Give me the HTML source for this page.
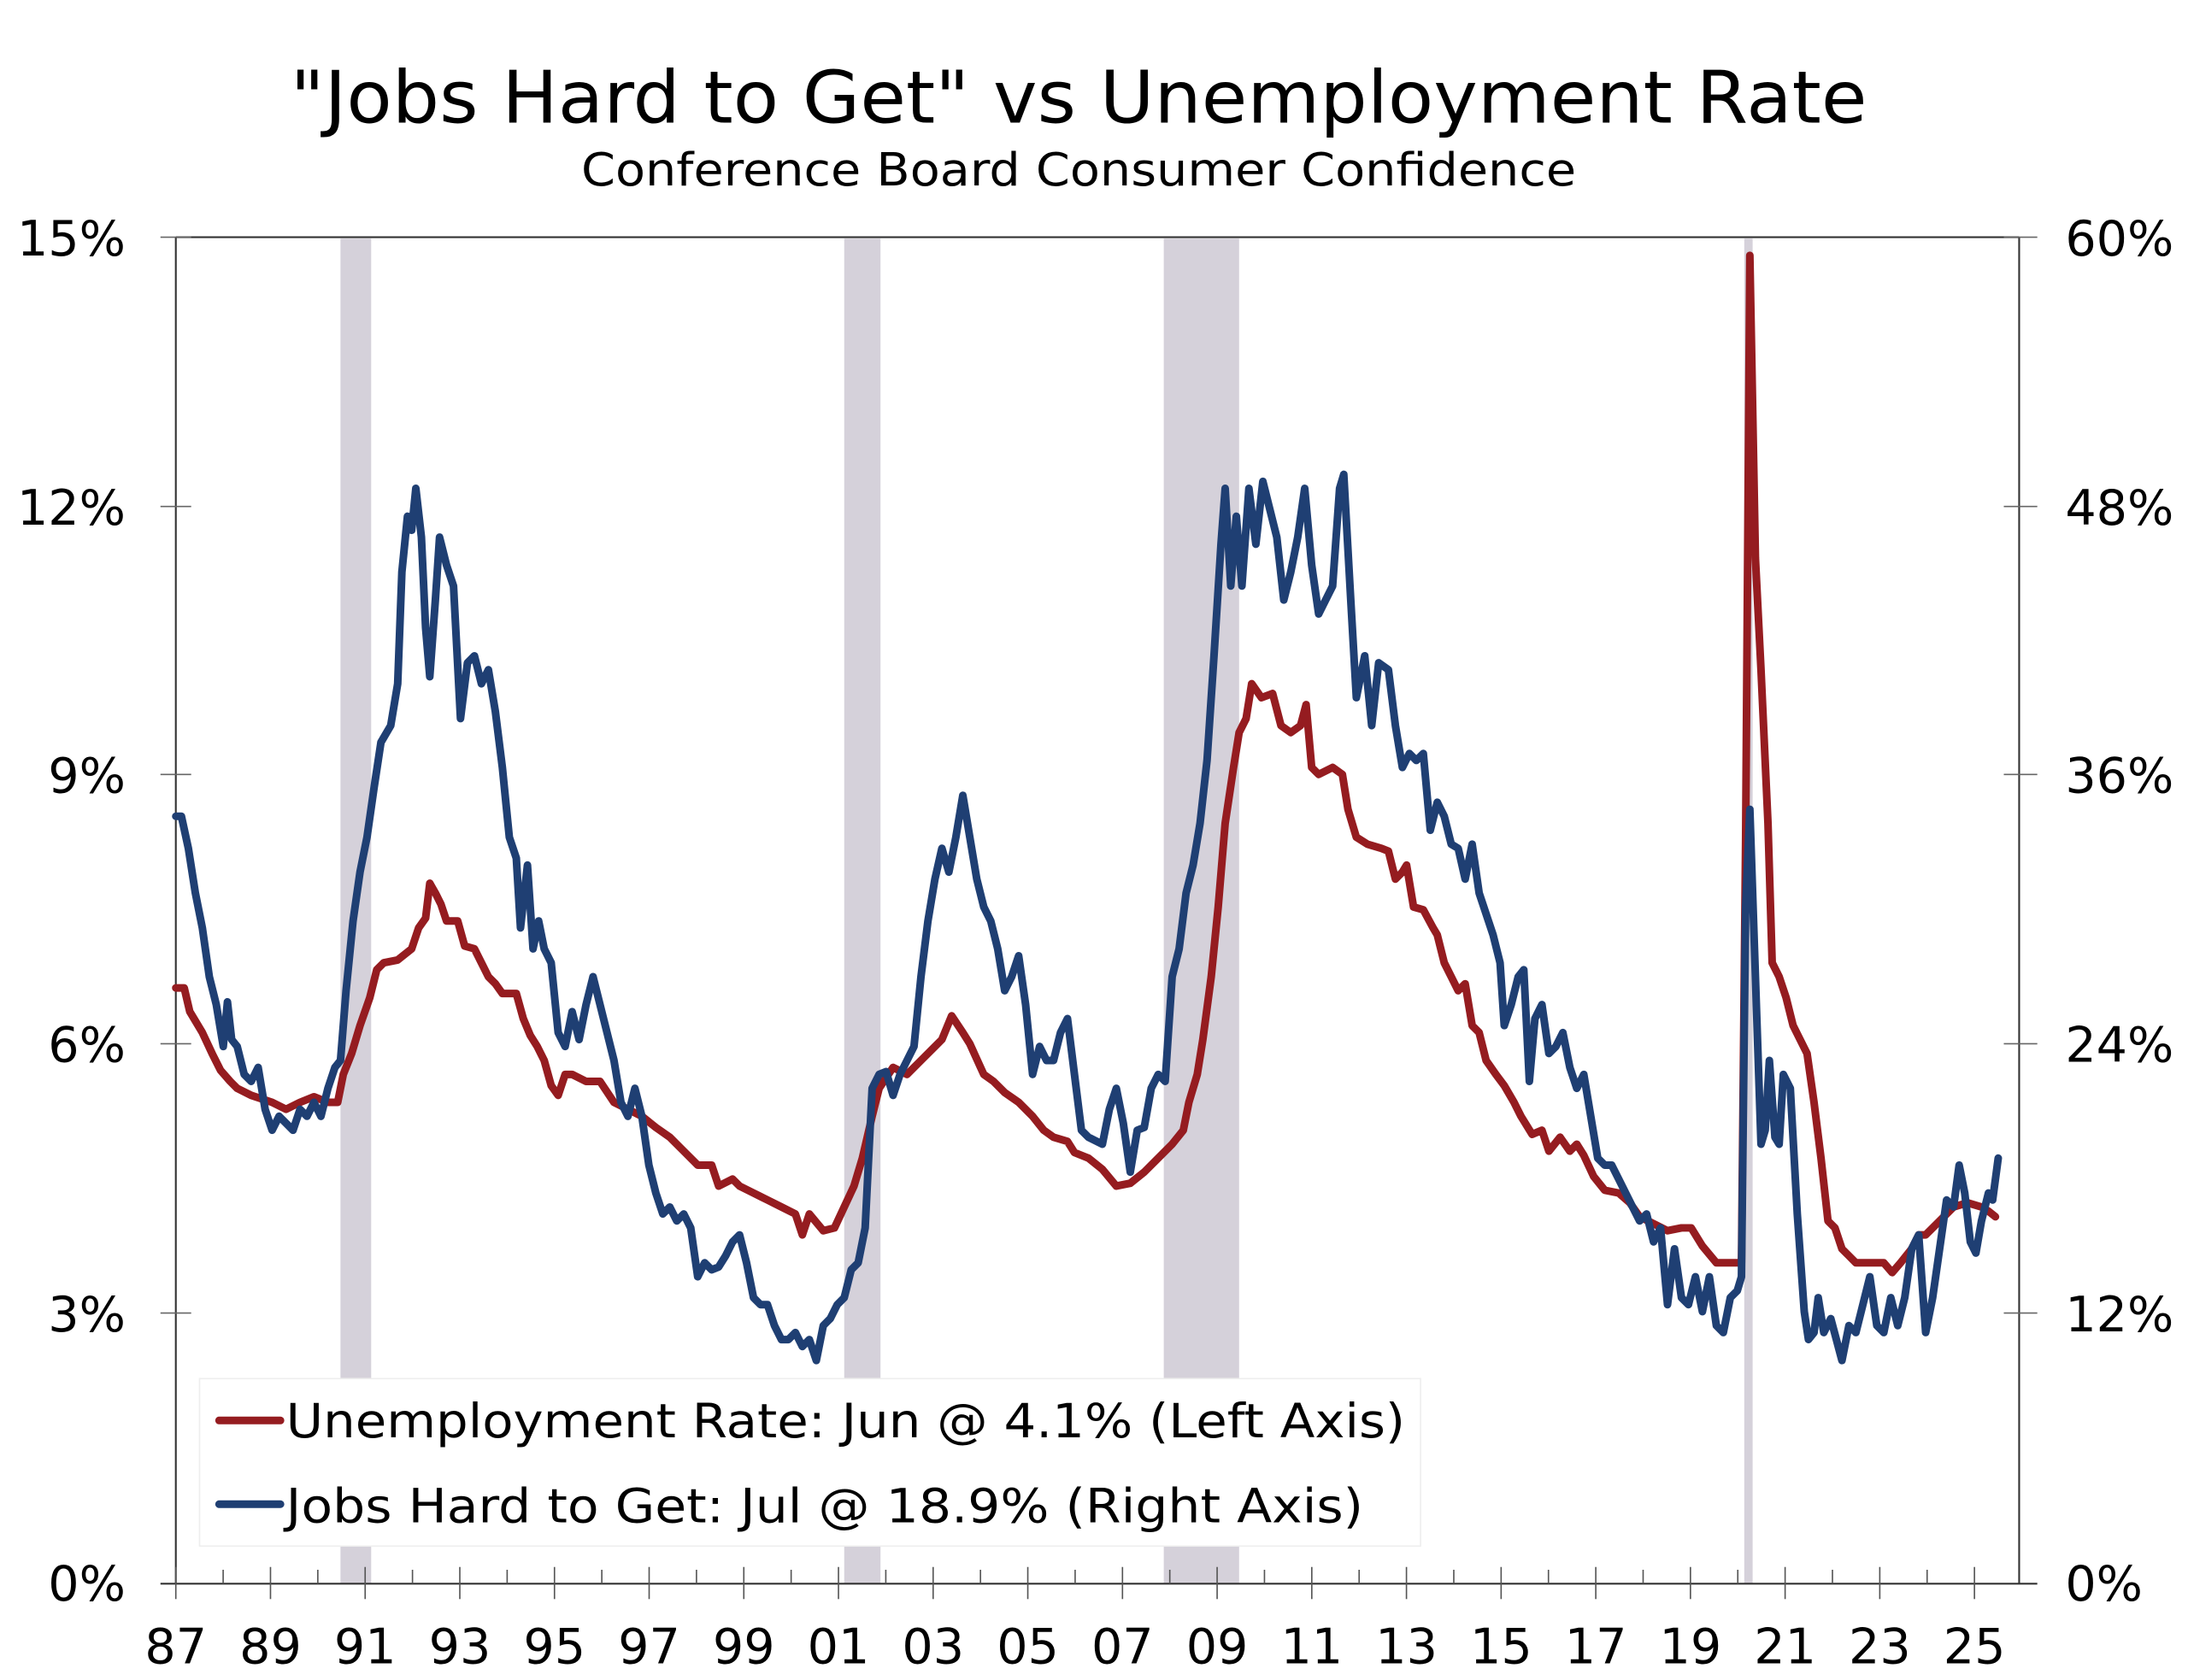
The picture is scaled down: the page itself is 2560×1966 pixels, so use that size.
<!DOCTYPE html>
<html><head><meta charset="utf-8"><style>html,body{margin:0;padding:0;background:#fff}svg{display:block}</style></head><body>
<svg width="2560" height="1966" viewBox="0 0 1568 1204" preserveAspectRatio="none" xmlns="http://www.w3.org/2000/svg" font-family="DejaVu Sans, Liberation Sans, sans-serif">
<rect width="1568" height="1204" fill="#fff"/>
<text x="773" y="88" font-size="52" text-anchor="middle" textLength="1130" lengthAdjust="spacingAndGlyphs">"Jobs Hard to Get" vs Unemployment Rate</text>
<text x="773" y="133" font-size="33" text-anchor="middle" textLength="713" lengthAdjust="spacingAndGlyphs">Conference Board Consumer Confidence</text>
<g fill="#d5d1da">
<rect x="244" y="171" width="22" height="964"/>
<rect x="605" y="171" width="26" height="964"/>
<rect x="834" y="171" width="54" height="964"/>
<rect x="1250" y="171" width="6" height="964"/>
</g>
<g stroke="#333" stroke-width="1.3" fill="none">
<line x1="126" y1="170" x2="1447" y2="170"/>
<line x1="126" y1="170" x2="126" y2="1135"/>
<line x1="1447" y1="170" x2="1447" y2="1135"/>
<line x1="115" y1="1135" x2="1460" y2="1135"/>
</g>
<g stroke="#666" stroke-width="1">
<line x1="115" y1="170" x2="137" y2="170"/><line x1="115" y1="363" x2="137" y2="363"/><line x1="115" y1="555" x2="137" y2="555"/><line x1="115" y1="748" x2="137" y2="748"/><line x1="115" y1="941" x2="137" y2="941"/>
<line x1="1436" y1="170" x2="1460" y2="170"/><line x1="1436" y1="363" x2="1460" y2="363"/><line x1="1436" y1="555" x2="1460" y2="555"/><line x1="1436" y1="748" x2="1460" y2="748"/><line x1="1436" y1="941" x2="1460" y2="941"/>
</g>
<g stroke="#555" stroke-width="1" id="xt"></g>
<g font-size="35" text-anchor="end">
<text x="90" y="183">15%</text><text x="90" y="376">12%</text><text x="90" y="568">9%</text><text x="90" y="761">6%</text><text x="90" y="954">3%</text><text x="90" y="1147">0%</text>
</g>
<g font-size="35" text-anchor="start">
<text x="1480" y="183">60%</text><text x="1480" y="376">48%</text><text x="1480" y="568">36%</text><text x="1480" y="761">24%</text><text x="1480" y="954">12%</text><text x="1480" y="1147">0%</text>
</g>
<g font-size="35" text-anchor="middle" id="xl"></g>
<polyline fill="none" stroke="#951c20" stroke-width="5.5" stroke-linejoin="round" stroke-linecap="round" points="126,708 132,708 136,725 145,740 152,755 158,767 165,775 170,780 180,785 195,790 205,795 215,790 225,786 235,790 242,790 246,770 252,755 258,735 265,715 270,695 275,690 285,688 295,680 300,665 305,658 308,633 312,640 316,648 320,660 328,660 333,678 340,680 345,690 350,700 355,705 360,712 370,712 375,730 380,742 385,750 390,760 395,778 400,785 405,770 410,770 420,775 430,775 440,790 450,795 460,800 470,808 480,815 490,825 500,835 510,835 515,850 525,845 530,850 540,855 550,860 560,865 570,870 575,885 580,870 590,882 598,880 605,865 612,850 618,830 625,800 630,780 640,765 650,770 660,760 670,750 675,745 682,728 690,740 695,748 705,770 712,775 720,783 730,790 740,800 748,810 755,815 765,818 770,826 780,830 790,838 800,850 810,848 820,840 828,832 840,820 848,810 852,790 858,770 862,745 868,700 873,650 878,590 884,550 888,525 893,515 897,490 904,500 912,497 918,520 925,525 932,520 936,505 940,550 945,555 955,550 962,555 966,580 972,600 980,605 990,608 995,610 1000,630 1005,625 1008,620 1013,650 1020,652 1027,665 1030,670 1035,690 1040,700 1045,710 1050,705 1055,735 1060,740 1065,760 1072,770 1078,778 1085,790 1090,800 1098,813 1105,810 1110,825 1118,815 1125,825 1130,820 1135,828 1142,843 1150,853 1160,855 1168,862 1175,872 1185,877 1195,882 1205,880 1212,880 1220,893 1230,905 1240,905 1248,905 1251,600 1254,183 1258,400 1262,480 1267,590 1270,690 1275,700 1280,715 1285,735 1290,745 1295,755 1300,790 1305,830 1310,875 1315,880 1320,895 1330,905 1340,905 1350,905 1356,912 1362,905 1370,895 1375,885 1380,885 1390,875 1400,865 1410,862 1420,865 1425,868 1430,872"/>
<polyline fill="none" stroke="#1f3f73" stroke-width="5.5" stroke-linejoin="round" stroke-linecap="round" points="126,585 130,585 135,608 140,640 145,665 150,700 155,720 160,750 163,718 166,745 170,750 175,770 180,775 185,765 190,795 195,810 200,800 205,805 210,810 215,795 220,800 225,790 230,800 235,780 240,765 244,760 248,710 253,660 258,625 263,600 268,565 273,532 280,520 285,490 288,410 292,370 295,380 298,350 302,385 305,450 308,485 312,430 315,385 320,405 325,420 330,515 335,475 340,470 345,490 350,480 355,510 360,550 365,600 370,615 373,665 378,620 382,680 386,660 390,680 395,690 400,740 405,750 410,725 415,745 420,720 425,700 430,720 435,740 440,760 445,790 450,800 455,780 460,800 465,835 470,855 475,870 480,865 485,875 490,870 495,880 500,915 505,905 510,910 515,908 520,900 525,890 530,885 535,905 540,930 545,935 550,935 555,950 560,960 565,960 570,955 575,965 580,960 585,975 590,950 595,945 600,935 605,930 610,910 615,905 620,880 625,780 630,770 635,768 640,785 645,770 650,760 655,750 660,700 665,660 670,630 675,608 680,625 685,600 690,570 695,600 700,630 705,650 710,660 715,680 720,710 725,700 730,685 735,720 740,770 745,750 750,760 755,760 760,740 765,730 770,770 775,810 780,815 790,820 795,795 800,780 805,805 810,840 815,810 820,808 825,780 830,770 835,775 840,700 845,680 850,640 855,620 860,590 865,545 870,470 875,390 878,350 882,420 886,370 890,420 895,350 900,390 905,345 910,365 915,385 920,430 925,410 930,385 935,350 940,405 945,440 950,430 955,420 960,350 963,340 968,430 972,500 978,470 983,520 988,475 995,480 1000,520 1005,550 1010,540 1015,545 1020,540 1025,595 1030,575 1035,585 1040,605 1045,608 1050,630 1055,605 1060,640 1065,655 1070,670 1075,690 1078,735 1083,720 1088,700 1092,695 1096,775 1100,730 1105,720 1110,755 1115,750 1120,740 1125,765 1130,780 1135,770 1140,800 1145,830 1150,835 1155,835 1160,845 1165,855 1170,865 1175,875 1180,870 1185,890 1190,880 1195,935 1200,895 1205,930 1210,935 1215,915 1220,940 1225,915 1230,950 1235,955 1240,930 1245,925 1248,915 1251,650 1254,580 1258,700 1262,820 1265,810 1268,760 1272,815 1275,820 1278,770 1283,780 1288,870 1293,940 1296,960 1300,955 1303,930 1307,955 1312,945 1316,960 1320,975 1325,950 1330,955 1335,935 1340,915 1345,950 1350,955 1355,930 1360,950 1365,930 1370,895 1375,885 1380,955 1385,930 1390,895 1395,860 1400,865 1404,835 1408,855 1412,890 1416,898 1420,875 1425,855 1428,860 1432,830"/>
<rect x="143" y="988" width="875" height="120" fill="#fff" stroke="#eee" stroke-width="1"/>
<line x1="157" y1="1018" x2="201" y2="1018" stroke="#951c20" stroke-width="5.5" stroke-linecap="round"/>
<line x1="157" y1="1078" x2="201" y2="1078" stroke="#1f3f73" stroke-width="5.5" stroke-linecap="round"/>
<text x="205" y="1030" font-size="34" textLength="802" lengthAdjust="spacingAndGlyphs">Unemployment Rate: Jun @ 4.1% (Left Axis)</text>
<text x="205" y="1091" font-size="34" textLength="772" lengthAdjust="spacingAndGlyphs">Jobs Hard to Get: Jul @ 18.9% (Right Axis)</text>
<script>
(function(){var ns="http://www.w3.org/2000/svg",g=document.getElementById("xt"),l=document.getElementById("xl");
for(var y=0;y<=39;y++){var x=126+y*33.92;if(x>1440)break;var ln=document.createElementNS(ns,"line");ln.setAttribute("x1",x);ln.setAttribute("x2",x);
if(y%2==0){ln.setAttribute("y1",1123);ln.setAttribute("y2",1146);var t=document.createElementNS(ns,"text");t.setAttribute("x",x);t.setAttribute("y",1192);t.textContent=String((87+y)%100).padStart(2,"0");l.appendChild(t);}
else{ln.setAttribute("y1",1125);ln.setAttribute("y2",1135);}g.appendChild(ln);}})();
</script>
</svg>
</body></html>
